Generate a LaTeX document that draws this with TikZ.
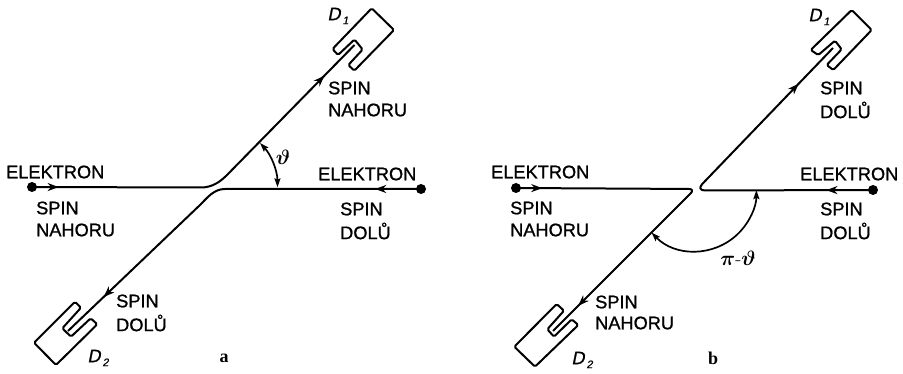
\documentclass[tikz,border=0pt]{standalone}
\usepackage{fontspec}
\newfontfamily\labfont[FakeBold=1.0]{Liberation Sans}
\newfontfamily\detfont[FakeBold=1.0,FakeSlant=0.2]{Liberation Sans}
\newfontfamily\panelfont{Liberation Serif}
\usetikzlibrary{arrows.meta,decorations.markings}
\tikzset{
  wire/.style={line width=2pt,line join=round},
  detbox/.style={line width=2pt,rounded corners=1.5pt,line join=round},
  twoarrows/.style n args={2}{postaction={decorate},decoration={markings,
     mark=at position #1 with {\arrow{Stealth[length=11pt,width=8pt,inset=3.5pt]}},
     mark=at position #2 with {\arrow{Stealth[length=11pt,width=8pt,inset=3.5pt]}}}},
  anglearc/.style={line width=1.7pt,{Stealth[length=9pt,width=6pt,inset=1.5pt]}-{Stealth[length=9pt,width=6pt,inset=1.5pt]}},
  dotnode/.style={circle,fill=black,inner sep=0pt,minimum size=10pt},
  lab/.style={anchor=west,inner sep=0pt,font=\fontsize{18.2}{20}\labfont},
  detlab/.style={inner sep=0pt,font=\fontsize{18}{18}\detfont},
  panel/.style={inner sep=0pt,font=\fontsize{18}{18}\panelfont\bfseries},
  anglelab/.style={inner sep=0pt,font=\fontsize{20}{22}\selectfont\mathversion{bold}}
}
\newcommand{\detsub}[1]{D\kern2pt\raisebox{-4pt}{\fontsize{11}{11}\selectfont #1}}
\begin{document}
\begin{tikzpicture}[x=1pt,y=-1pt]
\useasboundingbox (0,0) rectangle (903,374);
% ---------- panel a ----------
\node[dotnode] (aL) at (32,187) {};
\node[dotnode] (aR) at (421,189) {};
\coordinate (aD1) at (354.5,45);
\coordinate (aD2) at (68,331);
\draw[wire,twoarrows={0.07}{0.887}] (aL.center) -- (201,187.5) .. controls (212,187.5) and (220,182) .. (227,175) -- (aD1);
\draw[wire,twoarrows={0.112}{0.88}] (aR.center) -- (225,189) .. controls (214,189) and (208,197) .. (200,205) -- (aD2);
% detector D1 a
\draw[detbox] (371.7,8.3) -- (394,30) -- (354.3,70.7) -- (348.3,65) -- (362.7,49.5) -- (354.5,39.5) -- (338,55) -- (332.5,49) -- cycle;
% detector D2 a
\draw[detbox] (75,301.7) -- (81,307.7) -- (62.3,328.3) -- (71,336.7) -- (90.7,318.3) -- (97.3,324.3) -- (56,365) -- (34,342.7) -- cycle;
\draw[anglearc] (260,143) arc[start angle=43,end angle=0,radius=65pt];
\node[lab] (a1) at (6,172) {ELEKTRON};
\node[lab] (a2) at (36,208) {SPIN};
\node[lab] (a3) at (36,230) {NAHORU};
\node[lab] (a4) at (318,174) {ELEKTRON};
\node[lab] (a5) at (340,209) {SPIN};
\node[lab] (a6) at (340,231) {DOLŮ};
\node[lab] (a7) at (328,88) {SPIN};
\node[lab] (a8) at (328,110) {NAHORU};
\node[lab] (a9) at (116,301) {SPIN};
\node[lab] (a10) at (116,323) {DOLŮ};
\node[detlab] (a11) at (338,16) {\detsub{1}};
\node[detlab] (a12) at (98,358) {\detsub{2}};
\node[anglelab] (a13) at (283,157) {$\vartheta$};
\node[panel] (a14) at (224,358) {a};
% ---------- panel b ----------
\node[dotnode] (bL) at (516,188) {};
\node[dotnode] (bR) at (873,190) {};
\coordinate (bD1) at (833,48);
\coordinate (bD2) at (553,331);
\draw[wire,twoarrows={0.07}{0.905},rounded corners=6pt] (bL.center) -- (695,189) -- (bD2);
\draw[wire,twoarrows={0.127}{0.865},rounded corners=9pt] (bR.center) -- (696,190.5) -- (bD1);
\draw[detbox] (851.7,10) -- (871.7,30) -- (833.3,70) -- (826.7,65) -- (841.7,49.3) -- (835,40.7) -- (818.3,55) -- (810.7,50) -- cycle;
\draw[detbox] (556.7,304) -- (564,310.7) -- (547.3,329.3) -- (554,336.7) -- (571.7,319.3) -- (578.3,325) -- (535,366.7) -- (514.3,346.7) -- cycle;
\draw[anglearc] (651.5,232.5) arc[start angle=224,end angle=360,radius=61pt];
\node[lab] (b1) at (491,172) {ELEKTRON};
\node[lab] (b2) at (510,208) {SPIN};
\node[lab] (b3) at (510,230) {NAHORU};
\node[lab] (b4) at (800,174) {ELEKTRON};
\node[lab] (b5) at (820,209) {SPIN};
\node[lab] (b6) at (820,231) {DOLŮ};
\node[lab] (b7) at (820,88) {SPIN};
\node[lab] (b8) at (820,110) {DOLŮ};
\node[lab] (b9) at (595,302) {SPIN};
\node[lab] (b10) at (595,323) {NAHORU};
\node[detlab] (b11) at (819,17) {\detsub{1}};
\node[detlab] (b12) at (582,360) {\detsub{2}};
\node[anglelab] (b13) at (738,258) {$\pi$-$\vartheta$};
\node[panel] (b14) at (713,358) {b};
\end{tikzpicture}
\end{document}
